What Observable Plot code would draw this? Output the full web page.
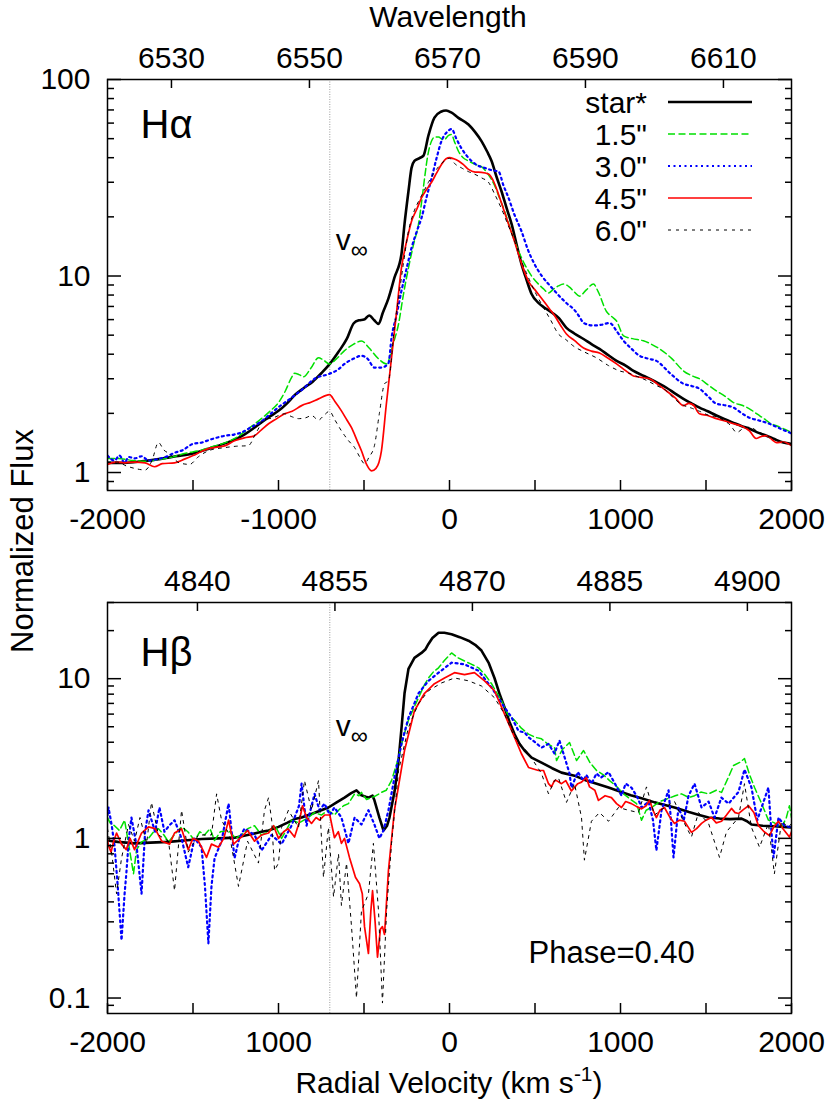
<!DOCTYPE html>
<html><head><meta charset="utf-8">
<script src="https://cdn.jsdelivr.net/npm/d3@7"></script>
<script src="https://cdn.jsdelivr.net/npm/@observablehq/plot@0.6"></script>
<style>
html,body{margin:0;padding:0;background:#fff;}
#fig{position:relative;width:830px;height:1103px;font-family:'Liberation Sans',Arial,sans-serif;}
#p1,#p2{position:absolute;left:0;}
#p1{top:0}#p2{top:540px}
#overlay{position:absolute;left:0;top:0;}
</style></head><body>
<div id="fig"><div id="p1"></div><div id="p2"></div>
<svg id="overlay" width="830" height="1103"></svg>
</div>
<script>
// ---------- data ----------
const seriesNames = ["star*", "1.5\"", "3.0\"", "4.5\"", "6.0\""];
const vInf = -700;
const xMajor = [-2000, -1000, 0, 1000, 2000];
const xMinor = [-1500, -500, 500, 1500];
const xLabelsHa = ["-2000", "-1000", "0", "1000", "2000"];
const xLabelsHb = ["-2000", "1000", "0", "1000", "2000"];
const waveTicksHa = [6530, 6550, 6570, 6590, 6610];
const waveTicksHb = [4840, 4855, 4870, 4885, 4900];
const waveRefHa = {l0: 6570, v0: -12, k: 40.35};
const waveRefHb = {l0: 4870, v0: 134, k: 53.6};
const yMajorHa = [1, 10, 100];
const yMinorHa = [0.9, 2, 3, 4, 5, 6, 7, 8, 9, 20, 30, 40, 50, 60, 70, 80, 90];
const yMajorHb = [0.1, 1, 10];
const yMinorHb = [0.09, 0.2, 0.3, 0.4, 0.5, 0.6, 0.7, 0.8, 0.9, 2, 3, 4, 5, 6, 7, 8, 9, 20, 30];

// H-alpha  [velocity km/s, normalized flux]
const haStar = [[-2000,1.12],[-1900,1.12],[-1800,1.14],[-1700,1.17],[-1600,1.21],[-1500,1.25],[-1400,1.33],[-1300,1.42],[-1250,1.48],[-1200,1.56],[-1150,1.67],[-1100,1.8],[-1050,1.93],[-1000,2.06],[-950,2.25],[-900,2.5],[-850,2.7],[-800,2.9],[-750,3.2],[-700,3.57],[-650,4.1],[-600,4.8],[-560,5.75],[-530,5.95],[-500,6.0],[-470,6.3],[-440,5.95],[-415,5.7],[-390,6.5],[-357,7.7],[-322,9.8],[-281,12.9],[-263,18.4],[-240,27],[-222,35.5],[-205,38.5],[-175,39.8],[-152,41],[-123,52],[-88,64],[-50,68.5],[-20,69.5],[10,68],[50,64],[111,59],[150,54],[187,48.6],[220,43],[246,38.5],[275,32],[304,27],[335,22],[363,18.4],[392,14.5],[421,11.5],[450,9.6],[480,8.1],[520,7.3],[556,6.9],[600,6.5],[640,6.1],[684,5.45],[730,5.1],[784,4.78],[830,4.5],[877,4.26],[930,3.95],[977,3.7],[1030,3.5],[1076,3.29],[1120,3.15],[1170,3.0],[1220,2.85],[1269,2.7],[1320,2.52],[1368,2.37],[1415,2.25],[1462,2.14],[1510,2.05],[1561,1.95],[1610,1.87],[1661,1.79],[1710,1.72],[1754,1.67],[1800,1.6],[1854,1.54],[1900,1.48],[1953,1.42],[2000,1.40]];
const ha15 = [[-2000,1.18],[-1940,1.18],[-1850,1.15],[-1780,1.14],[-1708,1.16],[-1620,1.2],[-1550,1.25],[-1450,1.3],[-1380,1.36],[-1310,1.42],[-1250,1.5],[-1177,1.67],[-1100,1.88],[-1050,2.05],[-1000,2.27],[-960,2.6],[-924,3.04],[-906,3.2],[-880,3.15],[-854,3.07],[-810,3.4],[-766,3.84],[-740,3.75],[-702,3.57],[-660,3.8],[-614,4.17],[-560,4.5],[-515,4.67],[-470,4.3],[-415,3.79],[-368,3.57],[-330,4.5],[-298,5.7],[-270,8],[-240,11],[-210,14.5],[-181,18.4],[-160,25],[-146,31.4],[-125,42],[-105,48.6],[-85,51],[-64,51],[-40,49.5],[-29,49.6],[-5,52],[12,52.5],[30,48],[53,43],[80,40],[111,38.5],[150,37],[187,36],[225,33],[263,29],[292,25],[322,21.4],[350,18],[380,15.1],[410,13],[439,11.5],[480,10],[520,9.1],[550,8.6],[579,8.2],[610,8.6],[637,8.9],[667,9.1],[700,8.8],[730,8.3],[760,7.9],[800,8.5],[842,9.1],[870,8.3],[918,6.6],[950,6.2],[977,5.9],[1018,4.96],[1070,4.8],[1134,4.68],[1180,4.5],[1228,4.26],[1300,3.8],[1368,3.29],[1420,3.1],[1462,3.0],[1510,2.8],[1561,2.6],[1610,2.45],[1661,2.27],[1710,2.2],[1754,2.11],[1800,1.98],[1850,1.85],[1871,1.79],[1920,1.72],[1960,1.66],[2000,1.6]];
const ha30 = [[-2000,1.22],[-1960,1.15],[-1930,1.22],[-1900,1.12],[-1877,1.2],[-1840,1.18],[-1800,1.21],[-1760,1.15],[-1708,1.17],[-1660,1.2],[-1608,1.26],[-1560,1.3],[-1500,1.4],[-1450,1.42],[-1400,1.47],[-1310,1.54],[-1260,1.56],[-1216,1.6],[-1160,1.7],[-1100,1.82],[-1058,1.95],[-1000,2.15],[-924,2.4],[-860,2.65],[-789,3.0],[-702,3.18],[-650,3.35],[-614,3.57],[-560,3.8],[-515,3.93],[-480,3.8],[-439,3.42],[-398,3.42],[-357,3.6],[-339,4.85],[-310,6.3],[-281,8.4],[-250,11],[-222,13.9],[-190,17],[-164,19.7],[-135,25],[-105,31.4],[-75,40],[-47,48.6],[-15,54],[12,56],[40,50],[70,44.6],[100,41],[129,38.5],[165,36.5],[205,35.5],[250,34.5],[287,34],[315,29],[345,25],[380,20.5],[421,16.9],[460,13.5],[497,11.5],[540,10],[579,9.1],[620,8.3],[655,7.7],[690,7.2],[725,6.8],[760,6.2],[784,5.77],[842,5.6],[890,5.65],[936,5.77],[980,5.2],[1018,4.68],[1060,4.3],[1111,3.93],[1160,3.8],[1210,3.7],[1290,3.2],[1368,2.83],[1420,2.75],[1462,2.67],[1510,2.45],[1561,2.24],[1610,2.2],[1661,2.14],[1710,2.0],[1754,1.9],[1810,1.84],[1871,1.77],[1930,1.68],[2000,1.58]];
const ha45 = [[-2000,1.1],[-1950,1.13],[-1900,1.12],[-1842,1.13],[-1780,1.12],[-1725,1.07],[-1680,1.11],[-1608,1.12],[-1550,1.17],[-1500,1.22],[-1450,1.28],[-1400,1.33],[-1350,1.35],[-1310,1.37],[-1257,1.45],[-1200,1.5],[-1140,1.54],[-1100,1.65],[-1058,1.77],[-1010,1.88],[-965,1.99],[-920,2.05],[-865,2.19],[-810,2.28],[-766,2.37],[-702,2.49],[-670,2.3],[-632,2.06],[-600,1.85],[-573,1.69],[-540,1.45],[-515,1.29],[-485,1.1],[-456,1.02],[-430,1.05],[-398,1.29],[-370,2.2],[-339,3.84],[-310,6.5],[-281,11],[-263,13.4],[-240,16.5],[-222,19],[-190,22],[-164,25],[-135,27.5],[-105,30],[-75,33.5],[-47,36.9],[-20,39.5],[0,40],[25,39.5],[53,38.5],[80,37],[111,34.9],[150,33.8],[187,33.7],[228,33],[260,30],[287,26],[315,22],[345,18.4],[375,15.5],[404,12.9],[430,11],[462,9.4],[500,8.5],[538,7.7],[585,6.8],[614,6.3],[650,5.6],[684,5.07],[730,4.7],[784,4.3],[830,4.15],[877,4.06],[930,3.8],[977,3.57],[1030,3.3],[1076,3.1],[1120,3.05],[1170,3.0],[1220,2.8],[1269,2.6],[1320,2.4],[1368,2.19],[1400,2.25],[1427,2.2],[1462,1.99],[1510,1.95],[1561,1.88],[1610,1.83],[1661,1.77],[1710,1.72],[1754,1.63],[1793,1.49],[1820,1.52],[1854,1.54],[1890,1.46],[1912,1.42],[1950,1.43],[2000,1.37]];
const ha60 = [[-2000,1.13],[-1942,1.13],[-1890,1.08],[-1842,1.05],[-1780,1.03],[-1740,1.15],[-1702,1.42],[-1670,1.3],[-1640,1.25],[-1580,1.12],[-1520,1.1],[-1470,1.2],[-1400,1.3],[-1310,1.34],[-1250,1.36],[-1177,1.37],[-1130,1.6],[-1082,1.85],[-1030,1.9],[-965,1.99],[-920,1.92],[-883,1.88],[-840,1.9],[-807,1.95],[-766,1.85],[-735,1.95],[-702,2.05],[-670,1.85],[-632,1.63],[-590,1.45],[-555,1.34],[-525,1.2],[-497,1.11],[-470,1.2],[-439,1.37],[-410,2.0],[-380,2.83],[-357,2.93],[-322,5.5],[-298,7.7],[-270,11.5],[-240,16.9],[-210,21],[-181,24],[-150,27],[-123,30],[-95,33],[-64,36],[-30,38.5],[0,39.7],[35,37],[70,35.5],[110,34],[146,33],[190,31.5],[228,30],[265,26],[304,22],[340,18.4],[380,15.1],[420,12],[462,9.8],[500,8.3],[538,7.2],[590,6.0],[637,5.07],[680,4.75],[725,4.4],[790,4.1],[858,3.84],[930,3.5],[994,3.29],[1050,3.2],[1090,3.1],[1150,2.95],[1200,2.8],[1269,2.6],[1320,2.35],[1368,2.2],[1420,2.12],[1462,2.05],[1520,1.95],[1561,1.92],[1600,1.85],[1640,1.75],[1680,1.6],[1720,1.68],[1760,1.7],[1800,1.62],[1850,1.55],[1900,1.48],[1950,1.42],[2000,1.38]];

// H-beta  [velocity km/s, normalized flux]
const hbStar = [[-2000,0.97],[-1940,0.95],[-1842,0.93],[-1750,0.94],[-1643,0.95],[-1550,0.97],[-1450,0.99],[-1350,1.0],[-1257,1.01],[-1160,1.06],[-1099,1.1],[-1058,1.12],[-1000,1.18],[-950,1.25],[-906,1.32],[-865,1.35],[-800,1.43],[-750,1.5],[-708,1.56],[-660,1.68],[-614,1.8],[-575,1.92],[-544,2.0],[-515,1.86],[-490,1.82],[-474,1.8],[-450,1.85],[-439,1.73],[-410,1.35],[-386,1.12],[-365,1.2],[-351,1.35],[-320,2.0],[-298,3.07],[-280,5.0],[-263,8.1],[-240,11.5],[-205,13.5],[-164,14.5],[-140,15.3],[-123,16.5],[-100,18],[-64,19.4],[-30,19.4],[12,19],[60,18.2],[111,17.3],[150,16.3],[187,15],[230,12.5],[263,10.1],[295,7.9],[322,6.6],[350,5.4],[380,4.5],[410,3.9],[439,3.55],[480,3.2],[538,2.98],[600,2.75],[655,2.58],[731,2.47],[800,2.3],[870,2.18],[930,2.08],[1000,1.96],[1060,1.86],[1123,1.78],[1200,1.68],[1260,1.62],[1316,1.56],[1400,1.46],[1460,1.4],[1515,1.35],[1580,1.33],[1640,1.32],[1708,1.33],[1740,1.28],[1766,1.22],[1830,1.2],[1900,1.19],[1950,1.18],[2000,1.17]];
const hb15 = [[-2000,1.35],[-1985,1.25],[-1959,1.2],[-1930,1.12],[-1900,1.3],[-1875,0.9],[-1848,0.6],[-1830,0.85],[-1800,0.95],[-1760,1.0],[-1730,1.1],[-1702,1.15],[-1670,1.05],[-1643,0.95],[-1610,1.05],[-1567,1.18],[-1530,1.1],[-1491,0.97],[-1460,1.1],[-1433,1.05],[-1400,1.15],[-1374,0.97],[-1340,1.1],[-1292,1.12],[-1250,1.0],[-1216,1.05],[-1180,1.15],[-1140,1.2],[-1100,1.05],[-1058,1.1],[-1020,1.2],[-982,1.0],[-950,1.15],[-924,1.3],[-880,1.25],[-825,1.35],[-790,1.45],[-749,1.4],[-710,1.5],[-673,1.4],[-649,1.5],[-620,1.6],[-591,1.65],[-555,1.9],[-530,1.85],[-515,1.94],[-485,1.75],[-456,1.8],[-430,1.85],[-398,1.94],[-370,2.0],[-339,2.3],[-298,3.2],[-270,4.3],[-240,5.5],[-210,6.5],[-181,7.6],[-150,9.0],[-123,10.1],[-95,11],[-64,11.7],[-30,13],[12,14.5],[50,13.5],[88,12.9],[130,12.3],[170,11.7],[210,10.5],[246,9.3],[275,8.2],[304,7.3],[340,6.0],[380,5.5],[420,4.9],[462,4.5],[500,4.3],[538,4.2],[575,3.9],[614,3.7],[626,3.07],[660,3.6],[702,3.98],[743,3.07],[784,3.55],[820,3.0],[860,2.66],[900,2.5],[936,2.3],[980,2.1],[1018,1.9],[1060,1.75],[1094,1.65],[1123,1.3],[1150,1.5],[1181,1.56],[1230,1.7],[1281,1.78],[1320,1.85],[1357,1.9],[1400,1.8],[1433,1.85],[1470,1.95],[1515,1.9],[1560,2.0],[1591,1.94],[1630,2.4],[1661,2.86],[1700,3.0],[1725,3.16],[1755,2.5],[1784,2.08],[1820,1.7],[1865,1.3],[1900,1.25],[1942,1.17],[1970,1.35],[1988,1.6],[2000,1.35]];
const hb30 = [[-2000,1.4],[-1994,1.56],[-1975,1.2],[-1959,0.9],[-1940,0.5],[-1918,0.23],[-1900,0.45],[-1890,0.6],[-1875,1.0],[-1860,1.35],[-1830,0.9],[-1801,0.45],[-1780,1.1],[-1760,1.5],[-1722,1.1],[-1696,1.56],[-1667,1.1],[-1640,1.2],[-1608,1.3],[-1567,1.0],[-1528,0.66],[-1491,1.0],[-1450,0.88],[-1430,0.5],[-1410,0.22],[-1392,0.5],[-1374,0.75],[-1333,0.96],[-1292,1.65],[-1257,0.75],[-1230,1.0],[-1199,1.15],[-1140,1.05],[-1099,0.84],[-1040,1.05],[-982,0.92],[-924,1.2],[-880,1.6],[-865,2.2],[-836,1.2],[-789,1.9],[-760,1.5],[-731,1.65],[-700,1.4],[-673,1.56],[-632,1.35],[-591,0.93],[-555,1.35],[-515,1.22],[-474,1.5],[-439,1.22],[-410,1.0],[-386,1.12],[-357,1.5],[-322,2.4],[-281,3.9],[-240,5.7],[-181,8.1],[-123,9.7],[-64,10.9],[12,12.6],[88,12.3],[170,11.2],[246,8.8],[322,6.6],[360,5.8],[404,4.7],[440,4.6],[462,4.3],[500,4.0],[538,3.7],[579,3.9],[614,3.4],[643,4.1],[670,3.3],[702,2.55],[713,2.08],[750,2.6],[784,2.3],[800,2.5],[830,2.2],[860,2.55],[885,2.4],[930,2.6],[1006,1.85],[1030,2.2],[1064,2.08],[1100,1.8],[1123,1.56],[1164,1.7],[1190,1.3],[1210,0.84],[1240,1.5],[1281,2.0],[1295,1.3],[1310,0.76],[1339,1.56],[1370,1.3],[1398,1.85],[1433,2.2],[1474,1.56],[1515,1.7],[1550,1.35],[1590,1.8],[1632,1.65],[1690,1.95],[1725,2.7],[1766,2.08],[1800,1.3],[1825,1.56],[1865,2.08],[1880,1.2],[1895,0.76],[1924,1.35],[1959,1.2],[2000,1.17]];
const hb45 = [[-2000,0.97],[-1994,0.9],[-1979,0.82],[-1965,0.95],[-1947,1.08],[-1918,0.92],[-1890,0.85],[-1868,1.0],[-1842,0.85],[-1801,1.08],[-1760,1.18],[-1722,1.15],[-1683,0.96],[-1637,0.92],[-1608,1.08],[-1567,1.15],[-1528,0.85],[-1500,1.0],[-1468,0.96],[-1421,0.76],[-1392,0.92],[-1351,0.88],[-1320,1.0],[-1292,1.3],[-1263,0.92],[-1216,1.02],[-1181,1.12],[-1140,0.96],[-1099,1.05],[-1058,1.08],[-1029,1.2],[-1000,1.0],[-970,1.1],[-944,1.15],[-906,1.02],[-880,1.25],[-860,1.6],[-835,1.35],[-807,1.24],[-780,1.35],[-760,1.3],[-730,1.4],[-700,1.4],[-673,1.01],[-650,1.1],[-632,0.93],[-614,1.0],[-585,0.76],[-550,0.57],[-526,0.52],[-510,0.45],[-497,0.28],[-474,0.19],[-460,0.35],[-450,0.47],[-435,0.3],[-421,0.18],[-404,0.27],[-392,0.28],[-380,0.25],[-357,0.63],[-322,1.5],[-263,3.55],[-205,6.3],[-146,8.1],[-88,9.3],[-29,10.1],[29,10.9],[88,10.6],[146,10.9],[205,9.7],[263,8.4],[322,6.0],[380,4.3],[420,3.4],[462,2.78],[520,2.66],[550,2.66],[579,2.2],[596,2.1],[614,2.3],[626,2.3],[655,2.2],[680,2.3],[713,1.98],[750,2.2],[772,2.25],[800,2.4],[819,2.1],[850,2.0],[871,1.73],[910,1.85],[947,1.8],[977,1.65],[1006,1.56],[1030,1.7],[1064,1.65],[1095,1.58],[1123,1.53],[1150,1.6],[1170,1.73],[1190,1.5],[1210,1.35],[1230,1.5],[1257,1.56],[1290,1.35],[1316,1.24],[1345,1.3],[1374,1.28],[1395,1.18],[1415,1.09],[1445,1.15],[1474,1.24],[1500,1.3],[1532,1.35],[1560,1.25],[1591,1.28],[1620,1.4],[1649,1.54],[1670,1.45],[1690,1.43],[1720,1.52],[1749,1.6],[1780,1.45],[1807,1.2],[1840,1.1],[1871,1.04],[1900,1.2],[1924,1.28],[1950,1.15],[1988,1.02],[2000,1.1]];
const hb60 = [[-2000,1.15],[-1975,0.8],[-1947,0.45],[-1918,0.75],[-1877,1.22],[-1842,0.96],[-1810,1.35],[-1771,0.93],[-1743,1.68],[-1702,1.05],[-1643,0.96],[-1608,0.47],[-1567,1.5],[-1528,0.82],[-1468,1.05],[-1392,1.05],[-1362,1.9],[-1333,1.3],[-1286,1.05],[-1234,0.5],[-1181,0.96],[-1117,0.7],[-1082,1.5],[-1058,1.8],[-1040,1.3],[-1023,0.63],[-1000,0.7],[-982,1.17],[-942,1.5],[-883,1.17],[-848,2.3],[-807,1.5],[-766,2.3],[-737,0.57],[-708,1.17],[-678,0.43],[-649,0.8],[-632,0.38],[-602,0.7],[-573,0.28],[-544,0.1],[-515,0.35],[-474,0.45],[-445,0.93],[-415,0.35],[-392,0.093],[-368,0.35],[-339,0.93],[-298,2.66],[-240,4.95],[-181,7.0],[-123,8.4],[-47,9.4],[29,10.1],[111,9.7],[187,9.0],[263,7.6],[322,6.0],[380,4.3],[462,3.4],[538,2.55],[579,1.9],[614,2.3],[637,2.4],[684,1.68],[731,2.2],[772,1.35],[789,0.73],[830,1.28],[877,1.45],[930,1.28],[988,1.56],[1047,1.5],[1105,1.45],[1152,2.1],[1199,1.4],[1257,1.56],[1316,1.7],[1374,1.24],[1415,1.02],[1456,1.45],[1515,1.24],[1579,0.76],[1620,1.1],[1690,1.35],[1725,2.2],[1766,1.17],[1813,0.88],[1865,1.24],[1900,0.6],[1942,1.28],[1982,1.17],[2000,1.24]];

// ---------- styles ----------
const FONT = "'Liberation Sans', Arial, sans-serif";
const styles = [
  {stroke: "#000000", strokeWidth: 2.6, dash: null},
  {stroke: "#00e000", strokeWidth: 1.5, dash: "7,3.5"},
  {stroke: "#0000ff", strokeWidth: 2.2, dash: "2,3.5"},
  {stroke: "#ff0000", strokeWidth: 1.7, dash: null},
  {stroke: "#000000", strokeWidth: 1, dash: "3,5"}
];

function panel(series, o) {
  const toV = l => o.waveRef.v0 + (l - o.waveRef.l0) * o.waveRef.k;
  const waveVs = o.waveTicks.map(toV);
  const ax = {fontSize: 30, strokeWidth: 1.5, label: null};
  return Plot.plot({
    width: 830, height: o.height,
    marginLeft: 107, marginRight: 39, marginTop: o.mt, marginBottom: o.mb,
    x: {domain: [-2000, 2000]},
    y: {type: "log", domain: o.yDomain},
    style: {fontFamily: FONT, fontSize: "30px", color: "#000", background: "transparent", overflow: "visible"},
    marks: [
      Plot.ruleX([vInf], {stroke: "#9a9a9a", strokeWidth: 1, strokeDasharray: "1,1.5"}),
      ...series.map((s, i) => Plot.line(s, {x: d => d[0], y: d => d[1], stroke: styles[i].stroke,
        strokeWidth: styles[i].strokeWidth, strokeDasharray: styles[i].dash, curve: o.curve, clip: true})),
      Plot.frame({stroke: "#000", strokeWidth: 1.5}),
      Plot.axisX(xMajor, {...ax, anchor: "bottom", tickSize: -10, tickPadding: 27, tickFormat: d => o.xLabels[xMajor.indexOf(d)]}),
      Plot.axisX(xMinor, {...ax, anchor: "bottom", tickSize: -10, text: null}),
      Plot.axisX(waveVs, {...ax, anchor: "top", tickSize: -8, tickPadding: 20, tickFormat: d => String(o.waveTicks[waveVs.indexOf(d)])}),
      Plot.axisY(o.yMajor, {...ax, anchor: "left", tickSize: -14, tickPadding: 31, tickFormat: d => String(d)}),
      Plot.axisY(o.yMinor, {...ax, anchor: "left", tickSize: -7, text: null}),
      Plot.axisY(o.yMajor, {...ax, anchor: "right", tickSize: -14, text: null}),
      Plot.axisY(o.yMinor, {...ax, anchor: "right", tickSize: -7, text: null}),
      Plot.text([o.title], {frameAnchor: "top-left", dx: 33, dy: o.titleDy, text: d => d, fontSize: 40, textAnchor: "start", lineAnchor: "bottom"}),
      Plot.text([vInf], {x: d => d, frameAnchor: "top", dx: 6, dy: o.vDy, text: () => "v", fontSize: 30, textAnchor: "start", lineAnchor: "bottom"}),
      Plot.text([vInf], {x: d => d, frameAnchor: "top", dx: 21, dy: o.vDy + 8, text: () => "\u221E", fontSize: 24, textAnchor: "start", lineAnchor: "bottom"}),
      ...(o.extra || [])
    ]
  });
}

const p1 = panel([haStar, ha15, ha30, ha45, ha60], {
  height: 540, mt: 79, mb: 50, yDomain: [0.81, 100], yMajor: yMajorHa, yMinor: yMinorHa,
  waveTicks: waveTicksHa, waveRef: waveRefHa, xLabels: xLabelsHa, title: "H\u03B1", titleDy: 58, vDy: 170,
  curve: "monotone-x"
});
const p2 = panel([hbStar, hb15, hb30, hb45, hb60], {
  height: 563, mt: 62, mb: 90, yDomain: [0.08, 30], yMajor: yMajorHb, yMinor: yMinorHb,
  waveTicks: waveTicksHb, waveRef: waveRefHb, xLabels: xLabelsHb, title: "H\u03B2", titleDy: 63, vDy: 133,
  curve: "linear",
  extra: [Plot.text(["Phase=0.40"], {frameAnchor: "top-left", dx: 421, dy: 360, text: d => d, fontSize: 31, textAnchor: "start", lineAnchor: "bottom"})]
});
document.getElementById("p1").appendChild(p1);
document.getElementById("p2").appendChild(p2);

// ---------- overlay: titles + legend ----------
const ov = d3.select("#overlay").style("font-family", FONT);
ov.append("text").attr("x", 448).attr("y", 27).attr("text-anchor", "middle").attr("font-size", 30).text("Wavelength");
const xl = ov.append("text").attr("x", 449).attr("y", 1093).attr("text-anchor", "middle").attr("font-size", 30);
xl.append("tspan").text("Radial Velocity (km s");
xl.append("tspan").attr("font-size", 21).attr("dy", -12).text("-1");
xl.append("tspan").attr("dy", 12).text(")");
ov.append("text").attr("transform", "translate(33,541) rotate(-90)").attr("text-anchor", "middle").attr("font-size", 31).text("Normalized Flux");
seriesNames.forEach((name, i) => {
  ov.append("text").attr("x", 647).attr("y", 113 + 32 * i).attr("text-anchor", "end").attr("font-size", 30).text(name);
  ov.append("line").attr("x1", 668).attr("x2", 752).attr("y1", 102 + 32 * i).attr("y2", 102 + 32 * i)
    .attr("stroke", styles[i].stroke).attr("stroke-width", styles[i].strokeWidth)
    .attr("stroke-dasharray", styles[i].dash);
});
</script>
</body></html>
